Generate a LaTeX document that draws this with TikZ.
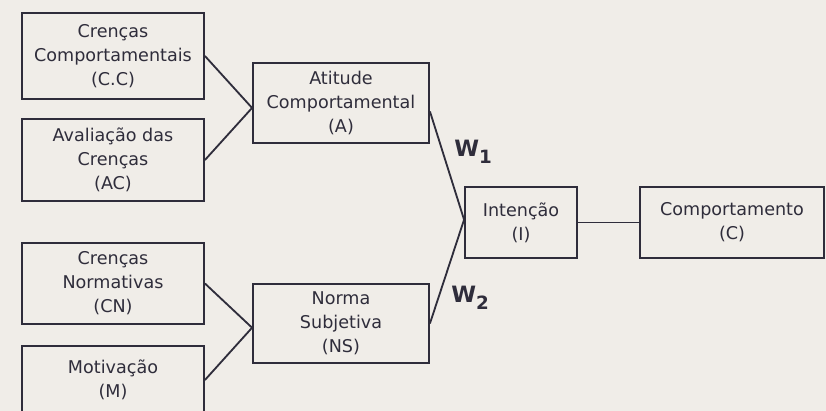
\documentclass[tikz,border=0pt]{standalone}
\usepackage{fontspec}
\setmainfont{DejaVu Sans}
\definecolor{paper}{HTML}{F0EDE8}
\definecolor{ink}{HTML}{2F2D3B}

\begin{document}
\begin{tikzpicture}[x=0.025cm, y=-0.025cm,
    bloco/.style={draw=ink, line width=1.3pt, fill=paper, text=ink, align=center,
        inner sep=0pt, font=\fontsize{12.5}{17}\selectfont},
    liga/.style={draw=ink, line width=1.3pt},
    peso/.style={text=ink, inner sep=0pt, anchor=base west, font=\fontsize{16}{16}\selectfont\bfseries}]

    \fill[paper] (0,0) rectangle (826,411);
    \useasboundingbox (0,0) rectangle (826,411);

    \node[bloco, minimum width=4.55cm, minimum height=2.15cm] (cc) at (113,56) {Crenças\\Comportamentais\\(C.C)};
    \node[bloco, minimum width=4.55cm, minimum height=2.05cm] (ac) at (113,160) {Avaliação das\\Crenças\\(AC)};
    \node[bloco, minimum width=4.55cm, minimum height=2.025cm] (cn) at (113,283.5) {Crenças\\Normativas\\(CN)};
    \node[bloco, minimum width=4.55cm, minimum height=1.7cm] (m) at (113,380) {Motivação\\(M)};

    \node[bloco, minimum width=4.4cm, minimum height=2cm] (a) at (341,103) {Atitude\\Comportamental\\(A)};
    \node[bloco, minimum width=4.4cm, minimum height=1.975cm] (ns) at (341,323.5) {Norma\\Subjetiva\\(NS)};

    \node[bloco, minimum width=2.8cm, minimum height=1.775cm] (i) at (521,222.5) {Intenção\\(I)};
    \node[bloco, minimum width=4.6cm, minimum height=1.775cm] (c) at (732,222.5) {Comportamento\\(C)};

    \coordinate (ja) at ([yshift=-3.5pt]a.west);
    \coordinate (jn) at ([yshift=-3pt]ns.west);
    \coordinate (sa) at ([yshift=-6pt]a.east);
    \coordinate (ji) at ([yshift=2pt]i.west);

    \draw[liga] (cc.east) -- (ja);
    \draw[liga] (ac.east) -- (ja);
    \draw[liga] (cn.east) -- (jn);
    \draw[liga] (m.east) -- (jn);
    \draw[liga] (sa) -- (ji);
    \draw[liga] (ns.east) -- (ji);
    \draw[liga] (i.east) -- (c.west);

    \node[peso] (w1) at (454,157) {W\raisebox{-4.5pt}{\fontsize{13}{13}\selectfont 1}};
    \node[peso] (w2) at (451,303) {W\raisebox{-4.5pt}{\fontsize{13}{13}\selectfont 2}};
\end{tikzpicture}
\end{document}
